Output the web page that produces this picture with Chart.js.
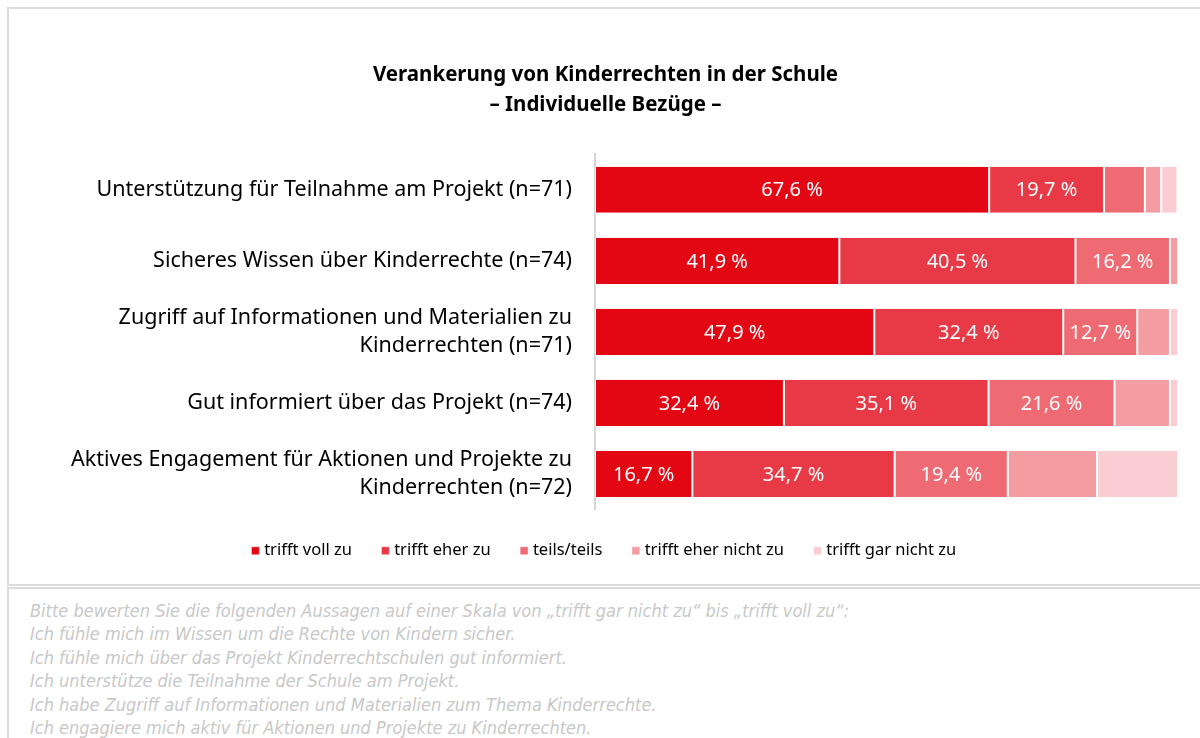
<!DOCTYPE html>
<html lang="de">
<head>
<meta charset="utf-8">
<title>Verankerung von Kinderrechten in der Schule</title>
<script src="https://cdn.jsdelivr.net/npm/chart.js@4"></script>
<style>
    html, body { margin: 0; padding: 0; background: #fff; width: 1200px; height: 738px; overflow: hidden; }
    .chart-box {
        position: absolute; left: 7px; top: 7px;
        width: 1193px; height: 575px;
        border: 2px solid #dcdcdc; border-right: none;
    }
    .chart-box canvas { display: block; }
    .note-box {
        position: absolute; left: 7px; top: 587px;
        width: 1193px; height: 200px;
        border: 2px solid #dcdcdc; border-right: none;
    }
    .note-box p {
        margin: 0; padding: 10px 0 0 21px;
        font-family: 'DejaVu Sans Condensed', 'Liberation Sans Narrow', sans-serif;
        font-stretch: condensed;
        font-style: italic; font-size: 18px; line-height: 23.4px; color: #c8c8c8;
        white-space: nowrap;
    }
</style>
</head>
<body>
<div class="chart-box"><canvas id="chartKinderrechte" width="1193" height="575"></canvas></div>
<div class="note-box">
    <p>Bitte bewerten Sie die folgenden Aussagen auf einer Skala von „trifft gar nicht zu“ bis „trifft voll zu“:<br>
    Ich fühle mich im Wissen um die Rechte von Kindern sicher.<br>
    Ich fühle mich über das Projekt Kinderrechtschulen gut informiert.<br>
    Ich unterstütze die Teilnahme der Schule am Projekt.<br>
    Ich habe Zugriff auf Informationen und Materialien zum Thema Kinderrechte.<br>
    Ich engagiere mich aktiv für Aktionen und Projekte zu Kinderrechten.</p>
</div>

<script>
// =========================================================================
// DATA
// =========================================================================

const categories = [
    ['Unterstützung für Teilnahme am Projekt (n=71)'],
    ['Sicheres Wissen über Kinderrechte (n=74)'],
    ['Zugriff auf Informationen und Materialien zu', 'Kinderrechten (n=71)'],
    ['Gut informiert über das Projekt (n=74)'],
    ['Aktives Engagement für Aktionen und Projekte zu', 'Kinderrechten (n=72)']
];

const seriesNames = ['trifft voll zu', 'trifft eher zu', 'teils/teils', 'trifft eher nicht zu', 'trifft gar nicht zu'];

const triffVoll      = [67.6, 41.9, 47.9, 32.4, 16.7];
const triffEher      = [19.7, 40.5, 32.4, 35.1, 34.7];
const teilsTeils     = [7.0, 16.2, 12.7, 21.6, 19.4];
const triffEherNicht = [2.8, 1.4, 5.6, 9.5, 15.3];
const triffGarNicht  = [2.8, 0, 1.4, 1.4, 13.9];

const seriesColors = ['#e30613', '#e83a46', '#ee6b74', '#f39ca2', '#f9cdd1'];

const FONT = "'Noto Sans', 'Open Sans', sans-serif";

// =========================================================================
// VALUE LABELS INSIDE BARS
// =========================================================================

const valueLabels = {
    id: 'valueLabels',
    afterDatasetsDraw(chart) {
        const ctx = chart.ctx;
        ctx.save();
        ctx.fillStyle = '#ffffff';
        ctx.font = '20px ' + FONT;
        ctx.textAlign = 'center';
        ctx.textBaseline = 'middle';
        chart.data.datasets.forEach((ds, i) => {
            if (i > 2) return;
            chart.getDatasetMeta(i).data.forEach((bar, j) => {
                const v = ds.data[j];
                if (v < 10) return;
                const cx = (bar.x + bar.base) / 2;
                ctx.fillText(v.toFixed(1).replace('.', ',') + ' %', cx, bar.y + 1);
            });
        });
        ctx.restore();
    }
};

// =========================================================================
// CHART
// =========================================================================

const allSeries = [triffVoll, triffEher, teilsTeils, triffEherNicht, triffGarNicht];

new Chart(document.getElementById('chartKinderrechte').getContext('2d'), {
    type: 'bar',
    data: {
        labels: categories,
        datasets: allSeries.map((values, i) => ({
            label: seriesNames[i],
            data: values,
            backgroundColor: seriesColors[i],
            borderColor: '#ffffff',
            borderWidth: { left: 1, right: 1, top: 0, bottom: 0 },
            borderSkipped: false,
            barPercentage: 0.65,
            categoryPercentage: 1
        }))
    },
    options: {
        indexAxis: 'y',
        responsive: false,
        animation: false,
        layout: { padding: { top: 40, right: 0, bottom: 15, left: 0 } },
        plugins: {
            title: {
                display: true,
                text: ['Verankerung von Kinderrechten in der Schule', '– Individuelle Bezüge –'],
                color: '#000000',
                font: { family: FONT, size: 20.5, weight: 'bold', lineHeight: 1.42 },
                padding: { top: 12, bottom: 35 }
            },
            legend: {
                position: 'bottom',
                labels: {
                    color: '#000000',
                    font: { family: FONT, size: 16.5 },
                    usePointStyle: true,
                    pointStyle: 'rect',
                    boxWidth: 1,
                    boxHeight: 8,
                    padding: 33
                }
            },
            tooltip: { enabled: false }
        },
        scales: {
            x: {
                stacked: true,
                min: 0,
                max: 104.1,   // leaves the white margin right of the 100 % bars
                display: false
            },
            y: {
                stacked: true,
                afterFit(scale) { scale.width = 586; },
                grid: { display: false, drawTicks: false },
                border: { display: true, color: '#d6d6d6', width: 2 },
                ticks: {
                    color: '#000000',
                    padding: 23,
                    font: { family: FONT, size: 21.5, lineHeight: 1.3 }
                }
            }
        }
    },
    plugins: [valueLabels]
});
</script>
</body>
</html>
